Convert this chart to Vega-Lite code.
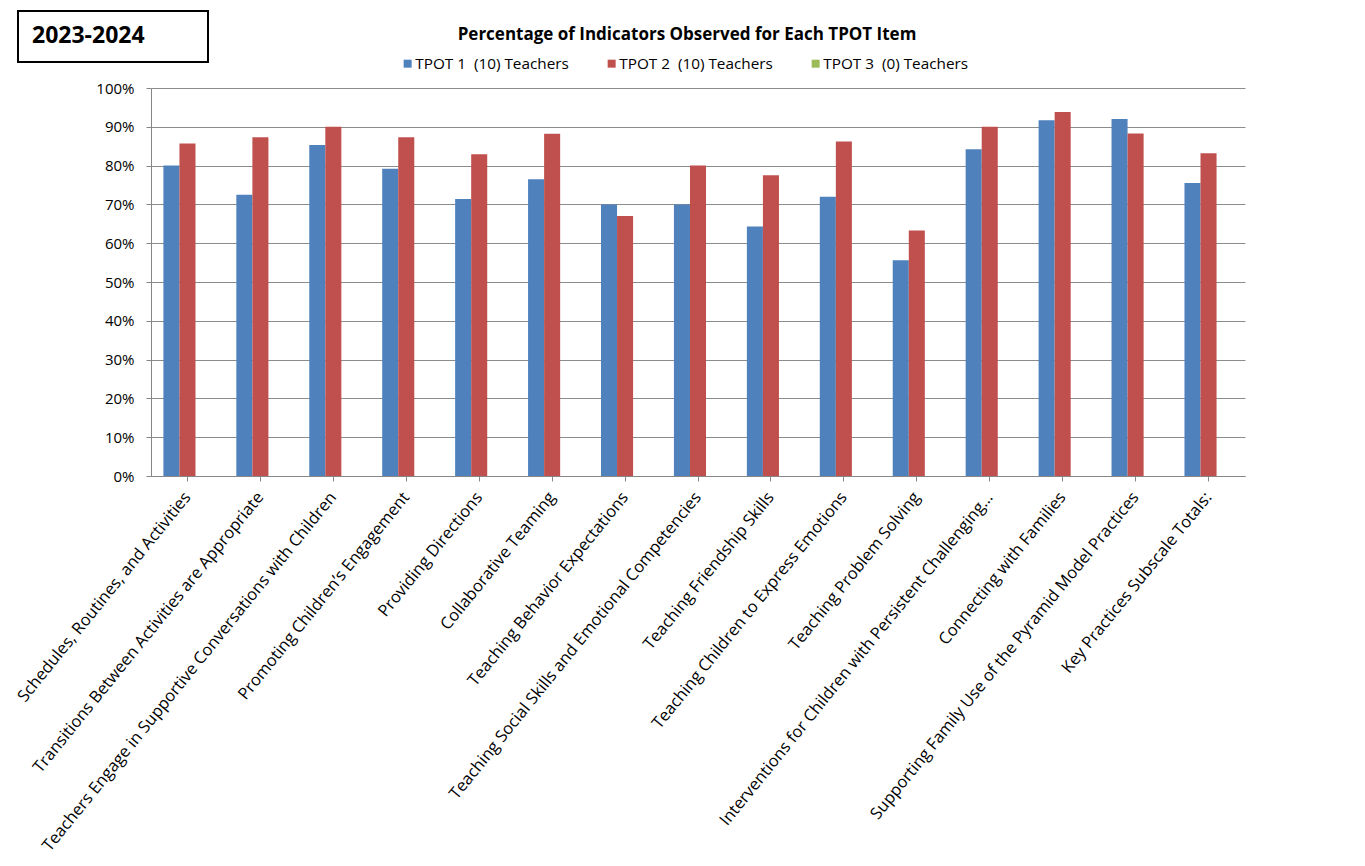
{
  "$schema": "https://vega.github.io/schema/vega-lite/v6.json",
  "width": 1094,
  "height": 388,
  "autosize": {"type": "none"},
  "padding": {"left": 151, "top": 88, "right": 120, "bottom": 390},
  "background": "white",
  "config": {
    "font": "Open Sans",
    "view": {"stroke": null},
    "legend": {"strokeWidth": 2},
    "axis": {"labelColor": "black", "labelFont": "Open Sans", "domainColor": "#868686", "tickColor": "#868686", "gridColor": "#8c8c8c"}
  },
  "title": {
    "text": "Percentage of Indicators Observed for Each TPOT Item",
    "font": "Open Sans",
    "fontSize": 17,
    "fontWeight": "bold",
    "color": "black",
    "anchor": "middle",
    "dx": -11,
    "offset": 0,
    "dy": 34
  },
  "layer": [
    {
      "data": {
        "values": [
          {"item": "Schedules, Routines, and Activities", "series": "TPOT 1\u00a0 (10) Teachers", "pct": 0.800},
          {"item": "Schedules, Routines, and Activities", "series": "TPOT 2\u00a0 (10) Teachers", "pct": 0.857},
          {"item": "Schedules, Routines, and Activities", "series": "TPOT 3\u00a0 (0) Teachers", "pct": 0},
          {"item": "Transitions Between Activities are Appropriate", "series": "TPOT 1\u00a0 (10) Teachers", "pct": 0.725},
          {"item": "Transitions Between Activities are Appropriate", "series": "TPOT 2\u00a0 (10) Teachers", "pct": 0.873},
          {"item": "Transitions Between Activities are Appropriate", "series": "TPOT 3\u00a0 (0) Teachers", "pct": 0},
          {"item": "Teachers Engage in Supportive Conversations with Children", "series": "TPOT 1\u00a0 (10) Teachers", "pct": 0.853},
          {"item": "Teachers Engage in Supportive Conversations with Children", "series": "TPOT 2\u00a0 (10) Teachers", "pct": 0.900},
          {"item": "Teachers Engage in Supportive Conversations with Children", "series": "TPOT 3\u00a0 (0) Teachers", "pct": 0},
          {"item": "Promoting Children’s Engagement", "series": "TPOT 1\u00a0 (10) Teachers", "pct": 0.792},
          {"item": "Promoting Children’s Engagement", "series": "TPOT 2\u00a0 (10) Teachers", "pct": 0.873},
          {"item": "Promoting Children’s Engagement", "series": "TPOT 3\u00a0 (0) Teachers", "pct": 0},
          {"item": "Providing Directions", "series": "TPOT 1\u00a0 (10) Teachers", "pct": 0.714},
          {"item": "Providing Directions", "series": "TPOT 2\u00a0 (10) Teachers", "pct": 0.829},
          {"item": "Providing Directions", "series": "TPOT 3\u00a0 (0) Teachers", "pct": 0},
          {"item": "Collaborative Teaming", "series": "TPOT 1\u00a0 (10) Teachers", "pct": 0.765},
          {"item": "Collaborative Teaming", "series": "TPOT 2\u00a0 (10) Teachers", "pct": 0.882},
          {"item": "Collaborative Teaming", "series": "TPOT 3\u00a0 (0) Teachers", "pct": 0},
          {"item": "Teaching Behavior Expectations", "series": "TPOT 1\u00a0 (10) Teachers", "pct": 0.700},
          {"item": "Teaching Behavior Expectations", "series": "TPOT 2\u00a0 (10) Teachers", "pct": 0.670},
          {"item": "Teaching Behavior Expectations", "series": "TPOT 3\u00a0 (0) Teachers", "pct": 0},
          {"item": "Teaching Social Skills and Emotional Competencies", "series": "TPOT 1\u00a0 (10) Teachers", "pct": 0.700},
          {"item": "Teaching Social Skills and Emotional Competencies", "series": "TPOT 2\u00a0 (10) Teachers", "pct": 0.800},
          {"item": "Teaching Social Skills and Emotional Competencies", "series": "TPOT 3\u00a0 (0) Teachers", "pct": 0},
          {"item": "Teaching Friendship Skills", "series": "TPOT 1\u00a0 (10) Teachers", "pct": 0.643},
          {"item": "Teaching Friendship Skills", "series": "TPOT 2\u00a0 (10) Teachers", "pct": 0.775},
          {"item": "Teaching Friendship Skills", "series": "TPOT 3\u00a0 (0) Teachers", "pct": 0},
          {"item": "Teaching Children to Express Emotions", "series": "TPOT 1\u00a0 (10) Teachers", "pct": 0.720},
          {"item": "Teaching Children to Express Emotions", "series": "TPOT 2\u00a0 (10) Teachers", "pct": 0.862},
          {"item": "Teaching Children to Express Emotions", "series": "TPOT 3\u00a0 (0) Teachers", "pct": 0},
          {"item": "Teaching Problem Solving", "series": "TPOT 1\u00a0 (10) Teachers", "pct": 0.556},
          {"item": "Teaching Problem Solving", "series": "TPOT 2\u00a0 (10) Teachers", "pct": 0.633},
          {"item": "Teaching Problem Solving", "series": "TPOT 3\u00a0 (0) Teachers", "pct": 0},
          {"item": "Interventions for Children with Persistent Challenging…", "series": "TPOT 1\u00a0 (10) Teachers", "pct": 0.842},
          {"item": "Interventions for Children with Persistent Challenging…", "series": "TPOT 2\u00a0 (10) Teachers", "pct": 0.900},
          {"item": "Interventions for Children with Persistent Challenging…", "series": "TPOT 3\u00a0 (0) Teachers", "pct": 0},
          {"item": "Connecting with Families", "series": "TPOT 1\u00a0 (10) Teachers", "pct": 0.917},
          {"item": "Connecting with Families", "series": "TPOT 2\u00a0 (10) Teachers", "pct": 0.938},
          {"item": "Connecting with Families", "series": "TPOT 3\u00a0 (0) Teachers", "pct": 0},
          {"item": "Supporting Family Use of the Pyramid Model Practices", "series": "TPOT 1\u00a0 (10) Teachers", "pct": 0.920},
          {"item": "Supporting Family Use of the Pyramid Model Practices", "series": "TPOT 2\u00a0 (10) Teachers", "pct": 0.883},
          {"item": "Supporting Family Use of the Pyramid Model Practices", "series": "TPOT 3\u00a0 (0) Teachers", "pct": 0},
          {"item": "Key Practices Subscale Totals:", "series": "TPOT 1\u00a0 (10) Teachers", "pct": 0.755},
          {"item": "Key Practices Subscale Totals:", "series": "TPOT 2\u00a0 (10) Teachers", "pct": 0.832},
          {"item": "Key Practices Subscale Totals:", "series": "TPOT 3\u00a0 (0) Teachers", "pct": 0}
        ]
      },
      "mark": {"type": "bar"},
      "encoding": {
        "x": {
          "field": "item",
          "type": "nominal",
          "sort": null,
          "scale": {"paddingInner": 0.34, "paddingOuter": 0.17},
          "axis": {
            "title": null,
            "labelAngle": -51,
            "labelFontSize": 16.5,
            "labelLimit": 700,
            "labelPadding": 13,
            "tickSize": 5,
            "grid": false
          }
        },
        "xOffset": {
          "field": "series",
          "type": "nominal",
          "sort": null,
          "scale": {"paddingInner": 0, "paddingOuter": 0}
        },
        "y": {
          "field": "pct",
          "type": "quantitative",
          "scale": {"domain": [0, 1], "nice": false},
          "axis": {
            "title": null,
            "format": ".0%",
            "values": [0, 0.1, 0.2, 0.3, 0.4, 0.5, 0.6, 0.7, 0.8, 0.9, 1],
            "labelFontSize": 15,
            "labelPadding": 12,
            "tickSize": 5,
            "grid": true,
            "gridWidth": 1
          }
        },
        "color": {
          "field": "series",
          "type": "nominal",
          "sort": null,
          "scale": {
            "domain": ["TPOT 1\u00a0 (10) Teachers", "TPOT 2\u00a0 (10) Teachers", "TPOT 3\u00a0 (0) Teachers"],
            "range": ["#4F81BD", "#C0504D", "#9BBB59"]
          },
          "legend": {
            "title": null,
            "orient": "none",
            "direction": "horizontal",
            "legendX": 249,
            "legendY": -32,
            "padding": 0,
            "symbolType": "square",
            "symbolSize": 64,
            "symbolStrokeWidth": 0,
            "labelFont": "Open Sans",
            "labelFontSize": 15.3,
            "labelColor": "black",
            "labelOffset": 0,
            "columnPadding": 35
          }
        }
      }
    },
    {
      "data": {"values": [{"period": "2023-2024"}]},
      "mark": {"type": "point", "opacity": 0},
      "encoding": {
        "shape": {
          "field": "period",
          "type": "nominal",
          "legend": {
            "title": "2023-2024",
            "titleOrient": "left",
            "titleFont": "Open Sans",
            "titleFontSize": 23,
            "titleFontWeight": "bold",
            "titleColor": "black",
            "titlePadding": 5,
            "orient": "none",
            "legendX": -133,
            "legendY": -77,
            "padding": 14,
            "strokeColor": "black",
            "symbolSize": 1936,
            "symbolOpacity": 0,
            "symbolStrokeWidth": 0,
            "clipHeight": 21,
            "labelOffset": 0,
            "labelExpr": "''"
          }
        }
      }
    }
  ]
}
